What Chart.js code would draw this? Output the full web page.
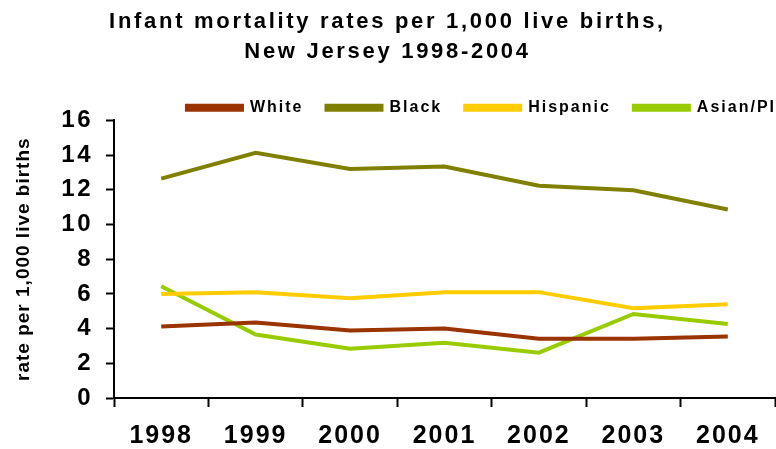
<!DOCTYPE html>
<html>
<head>
<meta charset="utf-8">
<style>
  html, body { margin: 0; padding: 0; background: #fff; }
  #wrap { width: 776px; height: 449px; }
</style>
<script src="https://cdn.jsdelivr.net/npm/chart.js@4/dist/chart.umd.min.js"></script>
</head>
<body>
<div id="wrap"><canvas id="c"></canvas></div>
<script>
// Infant mortality rates per 1,000 live births, New Jersey, by race/ethnicity
const years = ['1998', '1999', '2000', '2001', '2002', '2003', '2004'];
const white = [4.12, 4.35, 3.89, 4.0, 3.42, 3.42, 3.54];
const black = [12.64, 14.13, 13.2, 13.34, 12.23, 11.97, 10.86];
const hispanic = [6.0, 6.1, 5.75, 6.1, 6.1, 5.17, 5.4];
const asianPI = [6.44, 3.66, 2.84, 3.19, 2.61, 4.84, 4.26];
const seriesNames = ['White', 'Black', 'Hispanic', 'Asian/PI'];
const yTicks = [0, 2, 4, 6, 8, 10, 12, 14, 16];

const colors = ['#993300', '#808000', '#FFCC00', '#99CC00'];
const FONT = '"Liberation Sans", Arial, sans-serif';

// run a drawing/measuring method with a given canvas letter spacing
function spaced(obj, name, px) {
  if (!obj || !obj[name] || obj[name].__spaced) return;
  const orig = obj[name];
  const wrapped = function (...args) {
    const ctx = this.ctx;
    const prev = ctx.letterSpacing;
    ctx.letterSpacing = px;
    try { return orig.apply(this, args); } finally { ctx.letterSpacing = prev; }
  };
  wrapped.__spaced = true;
  obj[name] = wrapped;
}

// legend sits a little lower, closer to the plot
function trimLegend(legend, h) {
  if (!legend || legend.fit.__trimmed) return;
  const orig = legend.fit;
  const wrapped = function (...args) {
    const r = orig.apply(this, args);
    this.height = h;
    return r;
  };
  wrapped.__trimmed = true;
  wrapped.__spaced = true;
  legend.fit = wrapped;
}

const textSpacing = {
  id: 'textSpacing',
  beforeLayout(chart) {
    spaced(chart.titleBlock, 'draw', '2.7px');
    spaced(chart.legend, 'fit', '2px');
    trimLegend(chart.legend, 43.5);
    spaced(chart.legend, 'draw', '2px');
    spaced(chart.scales.x, 'drawLabels', '2px');
    spaced(chart.scales.y, 'drawLabels', '2.5px');
    spaced(chart.scales.y, 'drawTitle', '1px');
  },
  afterLayout(chart) {
    // legend row runs out to the right edge
    chart.legend.right += 24;
  }
};

const series = [white, black, hispanic, asianPI];
const datasets = series.map((d, i) => ({
  label: seriesNames[i],
  data: d,
  borderColor: colors[i],
  backgroundColor: colors[i],
  borderWidth: 4,
  pointRadius: 0,
  tension: 0,
  fill: false
}));

new Chart(document.getElementById('c'), {
  type: 'line',
  data: { labels: years, datasets },
  plugins: [textSpacing],
  options: {
    responsive: true,
    maintainAspectRatio: false,
    animation: false,
    layout: { padding: { left: 0, right: 1, top: 0, bottom: 0 } },
    plugins: {
      tooltip: { enabled: false },
      title: {
        display: true,
        text: ['Infant mortality rates per 1,000 live births,', 'New Jersey 1998-2004'],
        color: '#000',
        font: { family: FONT, size: 22, weight: 'bold', lineHeight: 1.36 },
        padding: { top: 7, bottom: 10 }
      },
      legend: {
        display: true,
        align: 'end',
        labels: {
          color: '#000',
          font: { family: FONT, size: 16, weight: 'bold' },
          boxWidth: 55,
          boxHeight: 4,
          padding: 23
        }
      }
    },
    scales: {
      x: {
        type: 'category',
        offset: true,
        border: { color: '#000', width: 2 },
        grid: {
          offset: true,
          drawOnChartArea: false,
          tickLength: 9,
          tickColor: '#000',
          tickWidth: 2
        },
        ticks: {
          color: '#000',
          font: { family: FONT, size: 25, weight: 'bold' },
          padding: 14,
          maxRotation: 0,
          autoSkip: false
        },
        afterFit(scale) { scale.height = 51; }
      },
      y: {
        min: 0,
        max: 16,
        afterBuildTicks(scale) { scale.ticks = yTicks.map(v => ({ value: v })); },
        border: { color: '#000', width: 2 },
        grid: {
          drawOnChartArea: false,
          tickLength: 8,
          tickColor: '#000',
          tickWidth: 2
        },
        ticks: {
          color: '#000',
          font: { family: FONT, size: 24, weight: 'bold' },
          padding: 13
        },
        title: {
          display: true,
          text: 'rate per 1,000 live births',
          color: '#000',
          font: { family: FONT, size: 19, weight: 'bold' },
          padding: { top: 12, bottom: 0 }
        },
        afterFit(scale) { scale.width = 114; }
      }
    }
  }
});
</script>
</body>
</html>
